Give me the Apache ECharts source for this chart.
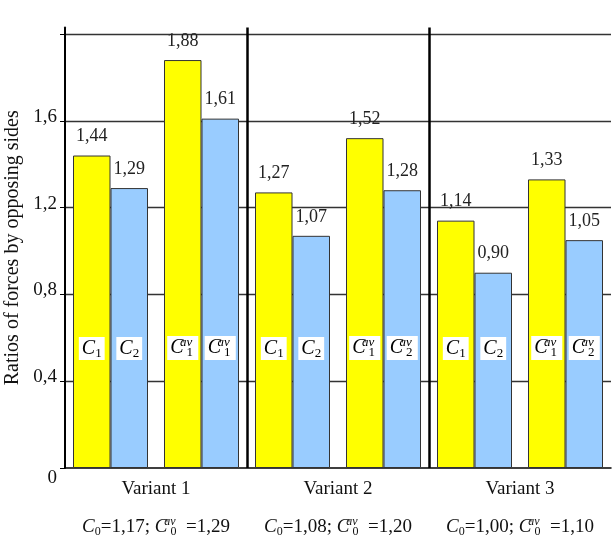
<!DOCTYPE html>
<html><head><meta charset="utf-8">
<script src="https://cdn.jsdelivr.net/npm/echarts@6/dist/echarts.min.js"></script>
<style>html,body{margin:0;padding:0;background:#fff}#c{width:616px;height:544px}</style>
</head><body><div id="c"></div>
<script>
// ---- data ----
const pairCategories = ['V1 C', 'V1 Cav', 'V2 C', 'V2 Cav', 'V3 C', 'V3 Cav'];
const variantNames = ['Variant 1', 'Variant 2', 'Variant 3'];
const yellowValues = [1.44, 1.88, 1.27, 1.52, 1.14, 1.33];
const blueValues = [1.29, 1.61, 1.07, 1.28, 0.90, 1.05];
const yellowTagSub = ['1', '1', '1', '1', '1', '1'];
const yellowTagSup = ['', 'av', '', 'av', '', 'av'];
const blueTagSub = ['2', '1', '2', '2', '2', '2'];
const blueTagSup = ['', 'av', '', 'av', '', 'av'];
const c0Values = [1.17, 1.08, 1.00];
const c0avValues = [1.29, 1.20, 1.10];
const yTickValues = [0, 0.4, 0.8, 1.2, 1.6, 2.0];
const yLabelValues = [0, 0.4, 0.8, 1.2, 1.6];
const yAxisTitle = 'Ratios of forces by opposing sides';

// ---- helpers ----
const SERIF = 'Liberation Serif';
const comma2 = v => v.toFixed(2).replace('.', ',');
function tagText(sub, sup) {
  return sup ? '{c|C}{sup|' + sup + '}{sub|' + sub + '}{gap| }' : '{c|C}{sub|' + sub + '}';
}
const tagRich = {
  c: { fontFamily: SERIF, fontStyle: 'italic', fontSize: 20, color: '#000', lineHeight: 22 },
  sub: { fontFamily: SERIF, fontSize: 13, color: '#000', padding: [10, 0, 0, 0] },
  sup: { fontFamily: SERIF, fontStyle: 'italic', fontSize: 13, color: '#000', width: 1, padding: [0, 0, 11, 2] },
  gap: { fontFamily: SERIF, fontSize: 9 }
};

const chart = echarts.init(document.getElementById('c'), null, { renderer: 'canvas' });

const valueLabel = {
  show: true, position: 'top', distance: 10,
  fontFamily: SERIF, fontSize: 18, color: '#222',
  formatter: p => comma2(p.value)
};
function tagLabel(subs, sups) {
  return {
    show: true, position: 'insideBottom', distance: 108,
    backgroundColor: '#fff', padding: [0, 3, 0, 3],
    formatter: p => tagText(subs[p.dataIndex], sups[p.dataIndex]),
    rich: tagRich
  };
}

chart.setOption({
  animation: false,
  backgroundColor: '#fff',
  textStyle: { fontFamily: SERIF },
  grid: { left: 65, right: 5, top: 27.5, bottom: 76, containLabel: false, outerBoundsMode: 'none' },
  xAxis: [
    {
      type: 'category', data: pairCategories, position: 'bottom',
      axisLine: { show: true, lineStyle: { color: '#000', width: 1.5 } },
      axisTick: { show: false }, axisLabel: { show: false },
      splitLine: {
        show: true, showMaxLine: false,
        interval: (i) => i === 2 || i === 4,
        lineStyle: { color: '#000', width: 2.5 }
      }
    },
    {
      type: 'category', data: variantNames, position: 'bottom',
      axisLine: { show: false }, axisTick: { show: false }, splitLine: { show: false },
      axisLabel: {
        show: true, margin: 2, interval: 0,
        fontFamily: SERIF, fontSize: 19, color: '#111', lineHeight: 38,
        formatter: (v, i) => v + '\n{c|C}{sub|0}{t|=' + comma2(c0Values[i]) + '; }{c|C}{sup|av}{sub|0}{t|  =' + comma2(c0avValues[i]) + '}',
        rich: {
          t: { fontFamily: SERIF, fontSize: 19, color: '#111', lineHeight: 38 },
          c: { fontFamily: SERIF, fontStyle: 'italic', fontSize: 19, color: '#111' },
          sub: { fontFamily: SERIF, fontSize: 12, color: '#111', padding: [10, 0, 0, 0] },
          sup: { fontFamily: SERIF, fontStyle: 'italic', fontSize: 12, color: '#111', width: 1, padding: [0, 0, 11, 2] }
        }
      }
    },
    { type: 'category', data: pairCategories, show: false }
  ],
  yAxis: {
    type: 'value', min: 0, max: 2.03, interval: 0.4,
    name: yAxisTitle, nameLocation: 'middle', nameGap: 38,
    nameTextStyle: { fontFamily: SERIF, fontSize: 20, color: '#111' },
    axisLine: { show: true, lineStyle: { color: '#000', width: 2 } },
    axisTick: { show: true, length: 5, customValues: yTickValues, lineStyle: { color: '#000', width: 1 } },
    axisLabel: {
      show: true, margin: 8, customValues: yLabelValues,
      formatter: v => v === 0 ? '{z|0}' : '{n|' + String(v).replace('.', ',') + '}',
      rich: {
        n: { fontFamily: SERIF, fontSize: 19, color: '#111', padding: [0, 0, 8, 0] },
        z: { fontFamily: SERIF, fontSize: 19, color: '#111', padding: [20, 0, 0, 0] }
      }
    },
    splitLine: { show: true, showMinLine: false, lineStyle: { color: '#333', width: 1.3 } }
  },
  series: [
    {
      type: 'bar', name: 'yellow', data: yellowValues, xAxisIndex: 0,
      barWidth: 37.5, barGap: '0%',
      itemStyle: { color: '#FFFF00', borderColor: '#333', borderWidth: 1 },
      label: valueLabel
    },
    {
      type: 'bar', name: 'blue', data: blueValues, xAxisIndex: 0,
      barWidth: 37.5, barGap: '0%',
      itemStyle: { color: '#99CCFF', borderColor: '#333', borderWidth: 1 },
      label: valueLabel
    },
    {
      type: 'bar', name: 'yellowTag', data: yellowValues, xAxisIndex: 2,
      barWidth: 37.5, barGap: '0%', silent: true, z: 5,
      itemStyle: { color: 'rgba(0,0,0,0)', borderWidth: 0 },
      label: tagLabel(yellowTagSub, yellowTagSup)
    },
    {
      type: 'bar', name: 'blueTag', data: blueValues, xAxisIndex: 2,
      barWidth: 37.5, barGap: '0%', silent: true, z: 5,
      itemStyle: { color: 'rgba(0,0,0,0)', borderWidth: 0 },
      label: tagLabel(blueTagSub, blueTagSup)
    }
  ]
});
</script>
</body></html>
